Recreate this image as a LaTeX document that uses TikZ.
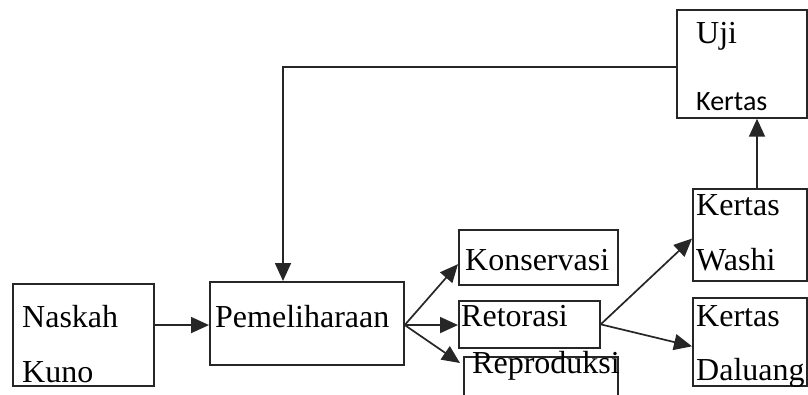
\documentclass[tikz,border=0pt]{standalone}
\usepackage{fontspec}
\setmainfont{Liberation Serif}
\newfontfamily\calib{Carlito}
\usetikzlibrary{arrows.meta,calc}
\tikzset{
  box/.style={draw=black!85, line width=1.7pt, inner sep=0pt, anchor=north west},
  lbl/.style={inner sep=0pt, anchor=base west, font=\fontsize{32}{32}\selectfont, text=black},
  arr/.style={draw=black!85, line width=1.7pt, -{Triangle[length=18pt,width=16pt]}},
  ln/.style={draw=black!85, line width=1.7pt}
}
\begin{document}
\begin{tikzpicture}[x=1pt,y=1pt]
\clip (0,0) rectangle (808,-394);
\fill[white] (0,0) rectangle (808,-394);
% boxes
\node[box, minimum width=141pt, minimum height=102pt] (nk) at (12,-283) {};
\node[box, minimum width=194pt, minimum height=83pt] (pm) at (209,-281) {};
\node[box, minimum width=159pt, minimum height=55pt] (ko) at (458,-229) {};
\node[box, minimum width=141pt, minimum height=47pt] (re) at (458,-300) {};
\node[box, minimum width=154pt, minimum height=60pt] (rp) at (463,-356) {};
\node[box, minimum width=114pt, minimum height=92pt] (wa) at (692,-188) {};
\node[box, minimum width=114pt, minimum height=88pt] (da) at (692,-297) {};
\node[box, minimum width=130pt, minimum height=108pt] (uj) at (676,-9) {};
% texts
\node[lbl] (t1) at (22,-327) {Naskah};
\node[lbl] (t2) at (22,-382) {Kuno};
\node[lbl] (t3) at (215,-327) {Pemeliharaan};
\node[lbl] (t4) at (465,-270) {Konservasi};
\node[lbl] (t5) at (461,-326) {Retorasi};
\node[lbl] (t6) at (472,-373) {Reproduksi};
\node[lbl] (t7) at (696,-215) {Kertas};
\node[lbl] (t8) at (696,-270) {Washi};
\node[lbl] (t9) at (696,-326) {Kertas};
\node[lbl] (t10) at (696,-380) {Daluang};
\node[lbl] (t11) at (696,-43) {Uji};
\node[lbl, font=\calib\fontsize{28}{28}\selectfont] (t12) at (696,-110) {Kertas};
% connectors
\coordinate (pmE) at ($(pm.north east)!0.52!(pm.south east)$);
\coordinate (reE) at ($(re.north east)!0.5!(re.south east)$);
\draw[arr] (nk.east |- pmE) -- (pm.west |- pmE);
\draw[arr] (pmE) -- ($(ko.north west)!0.62!(ko.south west)$);
\draw[arr] (pmE) -- (re.west |- pmE);
\draw[arr] (pmE) -- ($(rp.north west)+(-3,-7)$);
\draw[arr] (reE) -- ($(wa.north west)!0.54!(wa.south west)$);
\draw[arr] (reE) -- ($(da.north west)!0.55!(da.south west)$);
\draw[arr] (wa.north -| 757,0) -- (uj.south -| 757,0);
\coordinate (loopR) at (uj.west |- 0,-67);
\draw[arr] (loopR) -- (283,-67) -- (pm.north -| 283,0);
\end{tikzpicture}
\end{document}
